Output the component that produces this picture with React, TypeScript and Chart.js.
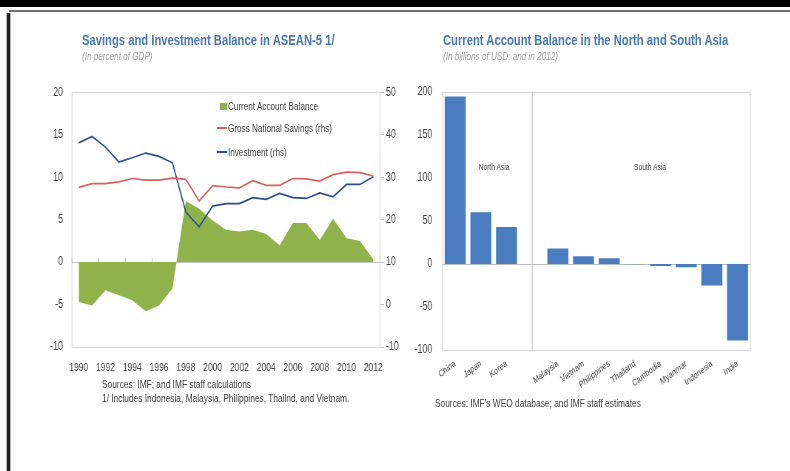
import React, { useEffect, useRef } from "react";
import { Chart, registerables } from "chart.js";

Chart.register(...registerables);

// ---------- Data ----------
const years = [
  "1990", "1991", "1992", "1993", "1994", "1995", "1996", "1997", "1998", "1999", "2000",
  "2001", "2002", "2003", "2004", "2005", "2006", "2007", "2008", "2009", "2010", "2011", "2012",
];
const currentAccount = [
  -4.7, -5.1, -3.3, -3.9, -4.5, -5.8, -5.1, -3.1, 7.2, 6.3, 4.9, 3.8, 3.6, 3.8, 3.3, 2.0, 4.6, 4.6,
  2.6, 5.1, 2.8, 2.5, 0.3,
];
const grossSavings = [
  27.6, 28.5, 28.5, 28.9, 29.7, 29.3, 29.3, 29.8, 29.5, 24.4, 28.0, 27.7, 27.5, 29.2, 28.1, 28.1,
  29.7, 29.6, 29.1, 30.6, 31.2, 31.1, 30.3,
];
const investment = [
  38.1, 39.6, 37.1, 33.6, 34.6, 35.7, 34.9, 33.4, 21.8, 18.3, 23.2, 23.8, 23.8, 25.2, 24.8, 26.2,
  25.2, 25.0, 26.3, 25.4, 28.3, 28.3, 30.1,
];
const leftTicks = [-10, -5, 0, 5, 10, 15, 20];
const rightTicks = [-10, 0, 10, 20, 30, 40, 50];

const countries = [
  "China", "Japan", "Korea", "", "Malaysia", "Vietnam", "Philippines", "Thailand", "Cambodia",
  "Myanmar", "Indonesia", "India",
];
const caBalance = [194.5, 60, 43, null, 17.8, 8.9, 6.6, -0.5, -2.3, -3.9, -25, -89];
const barTicks = [-100, -50, 0, 50, 100, 150, 200];

// ---------- Layout / styles ----------
// Whole figure is drawn in a horizontally condensed space (the original uses a narrow font).
const K = 0.74;
const px = (x: number) => x / K;

const FONT = '"Liberation Sans", Arial, sans-serif';
const TITLE_BLUE = "#4878B4";
const GREEN = "#8FB34A";
const RED = "#D6605F";
const NAVY = "#2B4C8C";
const BAR = "#4A7DC0";
const FRAME = "#D9D9D9";
const TEXT = "#404040";

const LEFT_CANVAS_W = Math.round(px(380));
const RIGHT_CANVAS_W = Math.round(px(360));
const LEFT_TOP = 73;
const LEFT_H = 390 - LEFT_TOP;
const RIGHT_TOP = 71;
const RIGHT_H = 420 - RIGHT_TOP;

const leftFrame = {
  id: "leftFrame",
  beforeDatasetsDraw(chart: any) {
    const { ctx, chartArea: a, scales } = chart;
    ctx.save();
    ctx.strokeStyle = FRAME;
    ctx.lineWidth = 1.2;
    ctx.strokeRect(a.left, Math.round(a.top) + 0.5, a.right - a.left, Math.round(a.bottom - a.top));
    const y0 = Math.round(scales.y.getPixelForValue(0)) + 0.5;
    ctx.strokeStyle = "#C4C4C4";
    ctx.beginPath();
    ctx.moveTo(a.left, y0);
    ctx.lineTo(a.right, y0);
    const n = years.length;
    const w = (a.right - a.left) / n;
    for (let k = 0; k <= n; k += 2) {
      const x = a.left + k * w;
      ctx.moveTo(x, y0);
      ctx.lineTo(x, y0 - 5);
    }
    ctx.stroke();
    ctx.restore();
  },
};

const rightFrame = {
  id: "rightFrame",
  beforeDatasetsDraw(chart: any) {
    const { ctx, chartArea: a, scales } = chart;
    ctx.save();
    ctx.strokeStyle = FRAME;
    ctx.lineWidth = 1.2;
    ctx.strokeRect(a.left, Math.round(a.top) + 0.5, a.right - a.left, Math.round(a.bottom - a.top));
    const xs = scales.x.getPixelForValue(3);
    ctx.strokeStyle = "#C8C8C8";
    ctx.beginPath();
    ctx.moveTo(xs, a.top);
    ctx.lineTo(xs, a.bottom);
    ctx.stroke();
    const y0 = Math.round(scales.y.getPixelForValue(0)) + 0.5;
    ctx.strokeStyle = "#BFBFBF";
    ctx.beginPath();
    ctx.moveTo(a.left, y0);
    ctx.lineTo(a.right, y0);
    ctx.stroke();
    ctx.restore();
  },
};

function LeftChart() {
  const ref = useRef<HTMLCanvasElement>(null);
  useEffect(() => {
    const chart = new Chart(ref.current as HTMLCanvasElement, {
      type: "line",
      data: {
        labels: years,
        datasets: [
          {
            label: "Gross National Savings (rhs)",
            data: grossSavings,
            yAxisID: "y1",
            borderColor: RED,
            borderWidth: 1.7,
            pointRadius: 0,
            tension: 0,
            fill: false,
            order: 0,
          },
          {
            label: "Investment (rhs)",
            data: investment,
            yAxisID: "y1",
            borderColor: NAVY,
            borderWidth: 1.7,
            pointRadius: 0,
            tension: 0,
            fill: false,
            order: 0,
          },
          {
            label: "Current Account Balance",
            data: currentAccount,
            yAxisID: "y",
            borderColor: "rgba(0,0,0,0)",
            borderWidth: 0,
            backgroundColor: GREEN,
            pointRadius: 0,
            tension: 0,
            fill: "origin",
            order: 1,
          },
        ],
      },
      options: {
        responsive: false,
        animation: false,
        layout: { padding: { left: 0, right: 0, top: 0, bottom: 0 } },
        plugins: { legend: { display: false }, tooltip: { enabled: false } },
        scales: {
          x: {
            type: "category",
            offset: true,
            grid: { display: false, drawTicks: false },
            border: { display: false },
            ticks: {
              autoSkip: false,
              maxRotation: 0,
              minRotation: 0,
              padding: 14,
              color: TEXT,
              font: { family: FONT, size: 11.5 },
              callback: function (this: any, v: any, i: number) {
                return i % 2 === 0 ? years[i] : "";
              },
            },
            afterFit: (s: any) => {
              s.height = 43;
            },
          },
          y: {
            position: "left",
            min: -10,
            max: 20,
            afterBuildTicks: (s: any) => {
              s.ticks = leftTicks.map((v) => ({ value: v }));
            },
            grid: { display: false, drawTicks: false },
            border: { display: false },
            ticks: { padding: px(9), color: TEXT, font: { family: FONT, size: 12 } },
            afterFit: (s: any) => {
              s.width = px(52);
            },
          },
          y1: {
            position: "right",
            min: -10,
            max: 50,
            afterBuildTicks: (s: any) => {
              s.ticks = rightTicks.map((v) => ({ value: v }));
            },
            grid: { drawOnChartArea: false, drawTicks: true, tickLength: px(4), color: "#BFBFBF" },
            border: { display: false },
            ticks: { padding: px(2), color: TEXT, font: { family: FONT, size: 12 } },
            afterFit: (s: any) => {
              s.width = LEFT_CANVAS_W - px(360);
            },
          },
        },
      } as any,
      plugins: [leftFrame],
    });
    return () => chart.destroy();
  }, []);
  return (
    <canvas
      ref={ref}
      width={LEFT_CANVAS_W}
      height={LEFT_H}
      style={{ position: "absolute", left: px(20), top: LEFT_TOP, width: LEFT_CANVAS_W, height: LEFT_H }}
    />
  );
}

function RightChart() {
  const ref = useRef<HTMLCanvasElement>(null);
  useEffect(() => {
    const chart = new Chart(ref.current as HTMLCanvasElement, {
      type: "bar",
      data: {
        labels: countries,
        datasets: [
          {
            label: "Current Account Balance",
            data: caBalance as any,
            backgroundColor: BAR,
            barPercentage: 0.82,
            categoryPercentage: 1,
          },
        ],
      },
      options: {
        responsive: false,
        animation: false,
        layout: { padding: { left: 0, right: RIGHT_CANVAS_W - px(350), top: 0, bottom: 0 } },
        plugins: { legend: { display: false }, tooltip: { enabled: false } },
        scales: {
          x: {
            grid: { display: false, drawTicks: false },
            border: { display: false },
            ticks: {
              autoSkip: false,
              maxRotation: 30,
              minRotation: 30,
              padding: 8,
              color: TEXT,
              font: { family: FONT, size: 9.5 },
            },
            afterFit: (s: any) => {
              s.height = 70;
            },
          },
          y: {
            min: -100,
            max: 200,
            afterBuildTicks: (s: any) => {
              s.ticks = barTicks.map((v) => ({ value: v }));
            },
            grid: { display: false, drawTicks: false },
            border: { display: false },
            ticks: { padding: px(10), color: TEXT, font: { family: FONT, size: 12 } },
            afterFit: (s: any) => {
              s.width = px(42);
            },
          },
        },
      } as any,
      plugins: [rightFrame],
    });
    return () => chart.destroy();
  }, []);
  return (
    <canvas
      ref={ref}
      width={RIGHT_CANVAS_W}
      height={RIGHT_H}
      style={{ position: "absolute", left: px(400), top: RIGHT_TOP, width: RIGHT_CANVAS_W, height: RIGHT_H }}
    />
  );
}

const abs = (left: number, top: number, extra: React.CSSProperties = {}): React.CSSProperties => ({
  position: "absolute",
  left: px(left),
  top,
  whiteSpace: "nowrap",
  fontFamily: FONT,
  ...extra,
});

export default function App() {
  return (
    <div style={{ position: "absolute", left: 0, top: 0, width: 790, height: 471, background: "#fff", overflow: "hidden" }}>
      <div
        style={{
          position: "absolute",
          left: 0,
          top: 0,
          width: px(790),
          height: 471,
          transform: `scaleX(${K})`,
          transformOrigin: "0 0",
        }}
      >
        <div style={{ position: "absolute", left: 0, top: 0, width: px(790), height: 7, background: "#000" }} />
        <div style={{ position: "absolute", left: px(9), top: 10, width: px(781), height: 2, background: "#6e6e6e" }} />
        <div style={{ position: "absolute", left: px(7), top: 13, width: px(3), height: 458, background: "#222" }} />

        <div style={abs(82, 31, { fontSize: 15.2, lineHeight: "18px", fontWeight: "bold", color: TITLE_BLUE })}>
          Savings and Investment Balance in ASEAN-5 1/
        </div>
        <div style={abs(82, 50, { fontSize: 11, lineHeight: "13px", fontStyle: "italic", color: "#A0A0A0" })}>
          (In percent of GDP)
        </div>
        <div style={abs(443, 31, { fontSize: 15.2, lineHeight: "18px", fontWeight: "bold", color: TITLE_BLUE })}>
          Current Account Balance in the North and South Asia
        </div>
        <div style={abs(443, 50, { fontSize: 11, lineHeight: "13px", fontStyle: "italic", color: "#A0A0A0" })}>
          (In billions of USD; and in 2012)
        </div>

        <LeftChart />
        <RightChart />

        {/* Legend of left chart */}
        <div style={abs(220, 103, { width: px(7), height: 7, background: GREEN })} />
        <div style={abs(228, 99, { fontSize: 11, lineHeight: "14px", color: TEXT })}>Current Account Balance</div>
        <div style={abs(217, 127, { width: px(10), height: 1.6, background: RED })} />
        <div style={abs(228, 121, { fontSize: 11, lineHeight: "14px", color: TEXT })}>Gross National Savings (rhs)</div>
        <div style={abs(217, 151, { width: px(10), height: 1.6, background: NAVY })} />
        <div style={abs(228, 145, { fontSize: 11, lineHeight: "14px", color: TEXT })}>Investment (rhs)</div>

        {/* Group labels of right chart */}
        <div style={abs(494, 167, { fontSize: 9, color: TEXT, transform: "translate(-50%, -50%)" })}>North Asia</div>
        <div style={abs(650, 167, { fontSize: 9, color: TEXT, transform: "translate(-50%, -50%)" })}>South Asia</div>

        {/* Notes */}
        <div style={abs(102, 377, { fontSize: 11.3, lineHeight: "14px", color: TEXT })}>
          Sources: IMF; and IMF staff calculations
        </div>
        <div style={abs(102, 391, { fontSize: 11.3, lineHeight: "14px", color: TEXT })}>
          1/ Includes Indonesia, Malaysia, Philippines, Thailnd, and Vietnam.
        </div>
        <div style={abs(435, 396, { fontSize: 11.3, lineHeight: "14px", color: TEXT })}>
          Sources: IMF's WEO database; and IMF staff estimates
        </div>
      </div>
    </div>
  );
}
